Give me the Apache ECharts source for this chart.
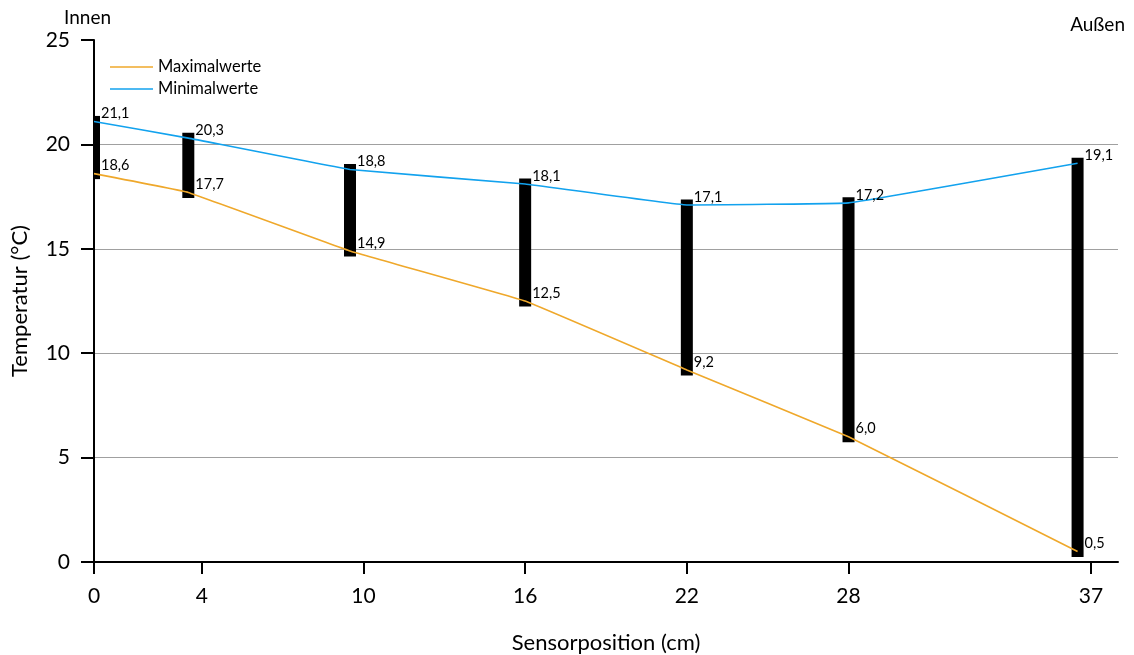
<!DOCTYPE html>
<html>
<head>
<meta charset="utf-8">
<script src="https://cdn.jsdelivr.net/npm/echarts@6/dist/echarts.min.js"></script>
<style>
  html, body { margin: 0; padding: 0; background: #fff; }
  #chart { width: 1134px; height: 655px; }
</style>
</head>
<body>
<div id="chart"></div>
<script>
// Sensor positions through the wall (cm) where each pair of readings was taken
const sensorPositions = [0, 3.5, 9.5, 16, 22, 28, 36.5];
// Tick labels shown along the x axis
const xTickValues = [0, 4, 10, 16, 22, 28, 37];
// Temperatures (°C)
const maxValues = [18.6, 17.7, 14.9, 12.5, 9.2, 6.0, 0.5];
const minValues = [21.1, 20.3, 18.8, 18.1, 17.1, 17.2, 19.1];

const FONT = 'Lato, "Open Sans", sans-serif';
const fmt = v => v.toFixed(1).replace('.', ',');

const maxSeriesData = sensorPositions.map((x, i) => [x, maxValues[i]]);
const minSeriesData = sensorPositions.map((x, i) => [x, minValues[i]]);
const rangeData = sensorPositions.map((x, i) => [x, Math.min(maxValues[i], minValues[i]), Math.max(maxValues[i], minValues[i])]);

const chart = echarts.init(document.getElementById('chart'), null, { renderer: 'canvas' });

const valueLabel = {
  show: true,
  position: 'right',
  distance: 7,
  offset: [0, -8],
  color: '#000',
  fontFamily: FONT,
  fontSize: 14.5,
  formatter: p => fmt(p.value[1])
};

const GRID_GRAY = '#a0a0a0';

chart.setOption({
  animation: false,
  backgroundColor: '#fff',
  grid: { left: 94, right: 16, top: 40, bottom: 93, containLabel: false, outerBoundsMode: 'none' },
  legend: {
    orient: 'vertical',
    left: 110,
    top: 57,
    padding: 0,
    icon: 'rect',
    itemWidth: 43,
    itemHeight: 1.5,
    itemGap: 2,
    textStyle: { fontFamily: FONT, fontSize: 16.5, color: '#000', lineHeight: 20 },
    data: ['Maximalwerte', 'Minimalwerte']
  },
  graphic: [
    { type: 'text', left: 64, top: 8, style: { text: 'Innen', fontFamily: FONT, fontSize: 19, fill: '#000' } },
    { type: 'text', right: 9, top: 15, style: { text: 'Außen', fontFamily: FONT, fontSize: 19, fill: '#000' } }
  ],
  xAxis: {
    type: 'value',
    min: 0,
    max: 38,
    name: 'Sensorposition (cm)',
    nameLocation: 'middle',
    nameGap: 70,
    nameTextStyle: { fontFamily: FONT, fontSize: 22, color: '#000' },
    axisLine: { show: true, onZero: false, lineStyle: { color: '#000', width: 2 } },
    axisTick: { show: true, length: 12, customValues: xTickValues, lineStyle: { color: '#000', width: 2 } },
    axisLabel: {
      customValues: xTickValues,
      margin: 24,
      fontFamily: FONT,
      fontSize: 21,
      color: '#000'
    },
    splitLine: { show: false }
  },
  yAxis: {
    type: 'value',
    min: 0,
    max: 25,
    interval: 5,
    name: 'Temperatur (°C)',
    nameLocation: 'middle',
    nameGap: 63,
    nameRotate: 90,
    nameTextStyle: { fontFamily: FONT, fontSize: 22, color: '#000' },
    axisLine: { show: true, lineStyle: { color: '#000', width: 2 } },
    axisTick: { show: true, length: 13, lineStyle: { color: '#000', width: 2 } },
    axisLabel: { margin: 24, fontFamily: FONT, fontSize: 21, color: '#000' },
    // no gridline on the baseline or along the top edge
    splitLine: {
      show: true,
      lineStyle: { color: ['transparent', GRID_GRAY, GRID_GRAY, GRID_GRAY, GRID_GRAY, 'transparent'], width: 1 }
    }
  },
  series: [
    {
      // Black range bars between the two readings at every sensor
      type: 'custom',
      name: 'Bereich',
      clip: true,
      z: 1,
      encode: { x: 0, y: [1, 2] },
      data: rangeData,
      renderItem: (params, api) => {
        const x = api.value(0);
        const top = api.coord([x, api.value(2)]);
        const bottom = api.coord([x, api.value(1)]);
        const ext = 5.5;
        return {
          type: 'rect',
          shape: { x: top[0] - 6, y: top[1] - ext, width: 12, height: bottom[1] - top[1] + 2 * ext },
          style: { fill: '#000' }
        };
      }
    },
    {
      type: 'line',
      name: 'Maximalwerte',
      z: 3,
      data: maxSeriesData,
      smooth: 0.06,
      symbol: 'circle',
      symbolSize: 0,
      showSymbol: true,
      color: '#EFA82B',
      lineStyle: { color: '#EFA82B', width: 1.6 },
      label: valueLabel
    },
    {
      type: 'line',
      name: 'Minimalwerte',
      z: 3,
      data: minSeriesData,
      smooth: 0.06,
      symbol: 'circle',
      symbolSize: 0,
      showSymbol: true,
      color: '#12A2EE',
      lineStyle: { color: '#12A2EE', width: 1.6 },
      label: valueLabel
    }
  ]
});
</script>
</body>
</html>
